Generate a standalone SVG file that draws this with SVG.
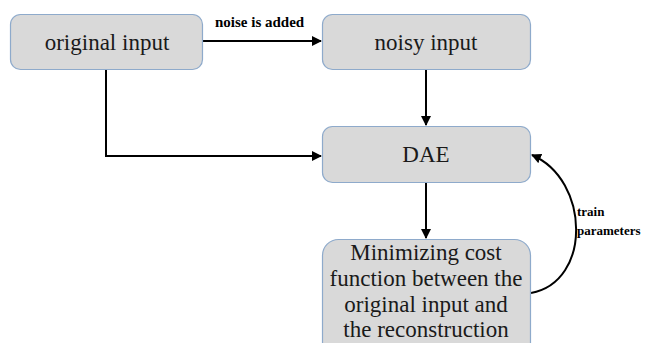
<svg xmlns="http://www.w3.org/2000/svg" width="651" height="343" viewBox="0 0 651 343">
<defs>
<marker id="ah" viewBox="0 0 10 10" refX="9" refY="5" markerWidth="10" markerHeight="10" markerUnits="userSpaceOnUse" orient="auto">
<path d="M0,0 L10,5 L0,10 z" fill="#000"/>
</marker>
<style>
.box{fill:#d9d9d9;stroke:#8eaacb;stroke-width:1.2}
.t{font-size:23px;fill:#1a1a1a;text-anchor:middle}
.lb{font-weight:bold;fill:#000}
.c{fill:none;stroke:#000;stroke-width:2;marker-end:url(#ah)}
</style>
</defs>
<rect width="651" height="343" fill="#fff"/>
<g font-family="Liberation Serif, Times New Roman, DejaVu Serif, serif">
<g id="connectors">
<line class="c" x1="203" y1="41" x2="321" y2="41"/>
<line class="c" x1="426" y1="69" x2="426" y2="125"/>
<polyline class="c" points="106,69 106,156 321,156"/>
<line class="c" x1="426" y1="182" x2="426" y2="238"/>
<path class="c" d="M531,293 C592,282 590,180 532,155"/>
<text class="lb" x="215" y="27" font-size="15">noise is added</text>
<text class="lb" x="577" y="216" font-size="13">train</text>
<text class="lb" x="577" y="235" font-size="13">parameters</text>
</g>
<g id="original">
<rect class="box" x="10.5" y="14.5" width="192" height="55" rx="10"/>
<text class="t" x="107" y="50">original input</text>
</g>
<g id="noisy">
<rect class="box" x="322.5" y="14.5" width="208" height="55" rx="10"/>
<text class="t" x="426" y="50">noisy input</text>
</g>
<g id="dae">
<rect class="box" x="322.5" y="126.5" width="208" height="56" rx="10"/>
<text class="t" x="426" y="162">DAE</text>
</g>
<g id="minimize">
<rect class="box" x="322.5" y="239.5" width="208" height="120" rx="16"/>
<text class="t" x="426" y="260">Minimizing cost</text>
<text class="t" x="426" y="286">function between the</text>
<text class="t" x="426" y="312">original input and</text>
<text class="t" x="426" y="337">the reconstruction</text>
</g>
</g>
</svg>
